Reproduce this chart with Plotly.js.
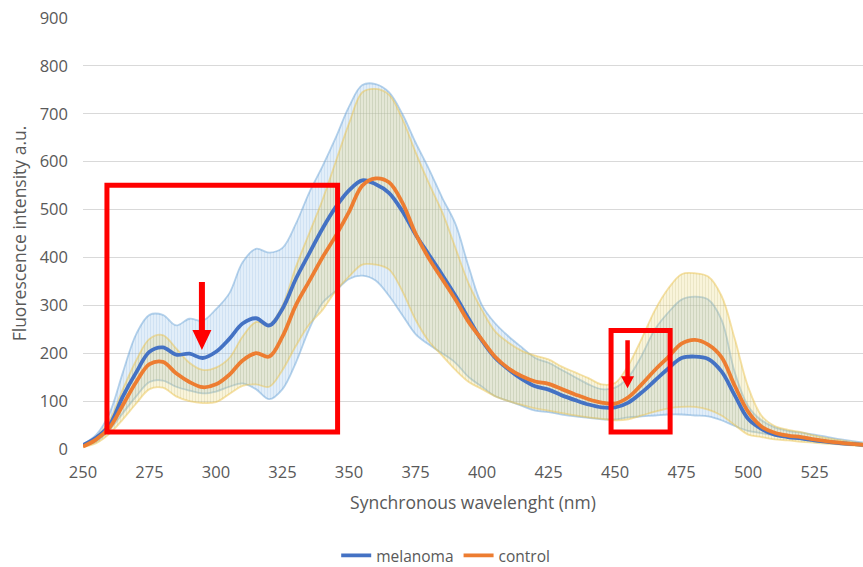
<!DOCTYPE html>
<html>
<head>
<meta charset="utf-8">
<script src="https://cdn.plot.ly/plotly-3.0.1.min.js"></script>
<style>
  html, body { margin: 0; padding: 0; background: #ffffff; }
  #chart { width: 863px; height: 567px; }
</style>
</head>
<body>
<div id="chart"></div>
<script>
// Synchronous wavelength grid (nm), 5 nm step
const wavelength = [250,255,260,265,270,275,280,285,290,295,300,305,310,315,320,325,330,335,340,345,
                    350,355,360,365,370,375,380,385,390,395,400,405,410,415,420,425,430,435,440,445,
                    450,455,460,465,470,475,480,485,490,495,500,505,510,515,520,525,530,535,540,545];

// Mean fluorescence intensity (a.u.)
const melanoma = [8,24,50,110,160,203,212,197,199,190,203,230,262,273,258,293,355,408,460,505,
                  540,561,553,535,497,448,406,364,320,272,226,190,166,146,131,124,112,102,93,87,
                  87,97,118,143,168,190,193,188,162,112,63,42,30,25,22,18,15,12,10,8];
const control  = [5,20,45,92,140,177,182,158,140,129,135,155,185,200,193,235,300,350,400,445,
                  495,550,565,557,515,450,398,355,312,265,228,192,168,152,141,136,125,114,104,97,
                  95,108,135,165,192,220,228,218,192,132,78,47,34,28,25,20,16,13,10,8];

// Spread around each mean (upper / lower edge of the band)
const melanomaUpper = [10,30,75,160,240,280,280,258,272,268,292,325,390,418,410,420,470,535,590,650,
                       715,760,762,745,700,640,585,525,470,380,300,262,235,212,190,180,165,150,135,125,
                       128,150,195,250,285,312,318,312,270,160,90,60,45,38,34,30,25,20,16,13];
const melanomaLower = [6,15,40,75,110,140,143,130,122,116,120,130,137,125,104,125,180,250,305,330,
                       355,362,352,320,280,240,218,200,180,150,130,110,100,90,80,77,72,68,65,62,
                       62,66,68,70,72,72,70,68,60,48,38,33,28,24,20,16,13,10,8,6];
const controlUpper  = [7,25,60,125,185,230,238,210,180,165,170,190,235,265,260,300,380,450,520,600,
                       680,745,752,740,690,620,555,495,420,345,290,245,222,205,195,187,172,160,148,135,
                       138,175,230,290,335,365,367,360,320,230,130,70,48,40,35,28,22,18,14,11];
const controlLower  = [4,12,32,62,95,125,128,110,100,96,98,115,132,135,130,165,215,260,290,330,
                       360,385,385,375,330,270,225,195,165,140,125,110,100,92,85,80,75,70,66,63,
                       60,62,70,78,85,88,88,82,70,50,30,25,20,18,15,13,11,9,7,5];

const seriesNames = ['melanoma', 'control'];
const xTicks = [250,275,300,325,350,375,400,425,450,475,500,525];
const yTicks = [0,100,200,300,400,500,600,700,800,900];

const BLUE = '#4472C4';
const ORANGE = '#ED7D31';
const TEXT = '#595959';
const FONT = '"Open Sans", "Noto Sans", sans-serif';

function bandEdge(y, color, fill, fillcolor, pattern) {
  const t = {
    x: wavelength, y: y, type: 'scatter', mode: 'lines',
    line: { color: color, width: 1.8, shape: 'spline', smoothing: 1 },
    fill: fill, hoverinfo: 'skip', showlegend: false
  };
  if (fillcolor) t.fillcolor = fillcolor;
  if (pattern) t.fillpattern = pattern;
  return t;
}

const traces = [
  bandEdge(melanomaLower, 'rgba(110,165,215,0.5)', 'none'),
  bandEdge(melanomaUpper, 'rgba(110,165,215,0.5)', 'tonexty', 'rgba(160,200,235,0.33)',
           { shape: '|', size: 3, solidity: 0.3, fgcolor: 'rgba(125,170,215,0.2)', bgcolor: 'rgba(160,200,235,0.30)' }),
  bandEdge(controlLower, 'rgba(235,195,80,0.5)', 'none'),
  bandEdge(controlUpper, 'rgba(235,195,80,0.5)', 'tonexty', 'rgba(230,210,110,0.28)',
           { shape: '|', size: 3, solidity: 0.3, fgcolor: 'rgba(180,175,120,0.22)', bgcolor: 'rgba(230,210,110,0.26)' }),
  {
    x: wavelength, y: melanoma, type: 'scatter', mode: 'lines', name: seriesNames[0],
    line: { color: BLUE, width: 3.8, shape: 'spline', smoothing: 1 }
  },
  {
    x: wavelength, y: control, type: 'scatter', mode: 'lines', name: seriesNames[1],
    line: { color: ORANGE, width: 3.8, shape: 'spline', smoothing: 1 }
  }
];

// Highlight boxes and arrows marking the regions of interest
function box(x0, x1, y0, y1) {
  return { type: 'rect', xref: 'x', yref: 'y', x0: x0, x1: x1, y0: y0, y1: y1,
           line: { color: '#FF0000', width: 5 }, fillcolor: 'rgba(0,0,0,0)', layer: 'above' };
}
function downArrow(xTip, yTip, len, shaft, headW, headL) {
  const s = shaft / 2, h = headW / 2;
  return {
    type: 'path', xref: 'x', yref: 'y', xsizemode: 'pixel', ysizemode: 'pixel',
    xanchor: xTip, yanchor: yTip,
    path: `M ${-s},${headL} L ${-s},${len} L ${s},${len} L ${s},${headL} L ${h},${headL} L 0,0 L ${-h},${headL} Z`,
    fillcolor: '#FF0000', line: { width: 0 }, layer: 'above'
  };
}

const layout = {
  width: 863, height: 567,
  margin: { l: 83, r: 0, t: 18, b: 118, autoexpand: false },
  paper_bgcolor: '#ffffff', plot_bgcolor: '#ffffff',
  font: { family: FONT, color: TEXT, size: 16 },
  xaxis: {
    range: [250, 543.2], tickvals: xTicks, ticktext: xTicks.map(String), automargin: false,
    showgrid: false, zeroline: false, showline: false, ticks: '',
    tickfont: { size: 16.5, color: TEXT }, ticklabelstandoff: 11,
    title: { text: 'Synchronous wavelenght (nm)', font: { size: 17.5, color: TEXT }, standoff: 15 }
  },
  yaxis: {
    range: [0, 900], tickvals: yTicks, ticktext: yTicks.map(String), automargin: false,
    showgrid: true, gridcolor: '#D9D9D9', gridwidth: 1, zeroline: false, showline: false, ticks: '',
    tickfont: { size: 16.5, color: TEXT }, ticklabelstandoff: 14,
    title: { text: 'Fluorescence intensity a.u.', font: { size: 17.5, color: TEXT }, standoff: 8 }
  },
  showlegend: true,
  legend: {
    orientation: 'h', traceorder: 'normal', x: 0.465, xanchor: 'center', y: -0.248, yanchor: 'middle',
    font: { size: 15.5, color: TEXT }, bgcolor: 'rgba(0,0,0,0)'
  },
  shapes: [
    box(259.0, 345.7, 35.5, 551),
    box(448.5, 470.7, 35.5, 247.4),
    downArrow(294.7, 206.7, 68, 6, 19, 20),
    downArrow(454.7, 126.7, 48, 4.5, 13, 12)
  ]
};

Plotly.newPlot('chart', traces, layout, { displayModeBar: false, staticPlot: true });
</script>
</body>
</html>
